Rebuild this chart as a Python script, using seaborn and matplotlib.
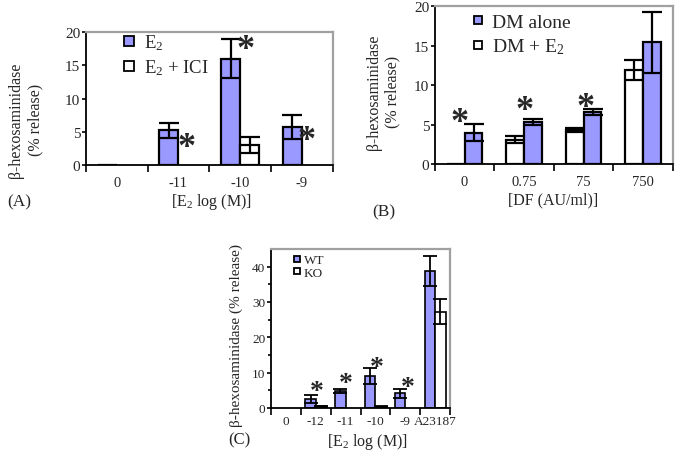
import numpy as np
import pandas as pd
import seaborn as sns
import matplotlib.pyplot as plt
from matplotlib.lines import Line2D

# Panel A: E2 dose response, +/- ICI
a_groups = ['0', '-11', '-10', '-9']
a_e2 = [0.0, 5.2, 16.0, 5.7]
a_e2_err = [0.0, 1.1, 2.9, 1.8]
a_ici = [np.nan, np.nan, 3.0, np.nan]
a_ici_err = [np.nan, np.nan, 1.15, np.nan]

# Panel B: DF dose, DM alone vs DM + E2
b_groups = ['0', '0.75', '75', '750']
b_alone = [4.0, 5.35, 6.6, 15.4]
b_alone_err = [1.05, 0.4, 0.4, 3.9]
b_e2 = [0.0, 3.1, 4.3, 11.9]
b_e2_err = [0.0, 0.4, 0.25, 1.3]

# Panel C: WT vs KO
c_groups = ['0', '-12', '-11', '-10', '-9', 'A23187']
c_wt = [np.nan, 2.5, 4.8, 9.0, 4.1, 38.8]
c_wt_err = [np.nan, 1.2, 0.6, 2.2, 1.3, 4.2]
c_ko = [np.nan, 0.5, np.nan, 0.4, np.nan, 27.3]
c_ko_err = [np.nan, 0.2, np.nan, 0.1, np.nan, 3.4]

BLUE = '#9999ff'

sns.set_theme(style='white')
plt.rcParams['font.family'] = ['Liberation Serif', 'DejaVu Serif']
plt.rcParams['mathtext.default'] = 'regular'


def long_frame(groups, series):
    rows = []
    for name, (vals, errs) in series.items():
        for g, v, e in zip(groups, vals, errs):
            rows.append({'group': g, 'series': name, 'value': v, 'err': e})
    return pd.DataFrame(rows)


def draw_panel(ax, df, groups, hue_order, palette, width, lw, capsize, elw):
    sns.barplot(data=df.dropna(subset=['value']), x='group', y='value',
                hue='series', order=groups, hue_order=hue_order,
                palette=palette, width=width, errorbar=None, legend=False,
                edgecolor='black', linewidth=lw, saturation=1, ax=ax)
    for level, cont in zip(hue_order, ax.containers):
        sub = df[df['series'] == level].set_index('group')
        for bar in cont:
            cx = bar.get_x() + bar.get_width() / 2
            g = groups[int(round(cx))]
            e = sub.loc[g, 'err']
            if np.isnan(e) or e == 0:
                continue
            ax.errorbar(cx, bar.get_height(), yerr=e, fmt='none',
                        ecolor='black', elinewidth=elw, capsize=capsize,
                        capthick=elw, zorder=5)
    n = len(groups)
    ax.set_xlim(-0.5, n - 0.5)
    ax.set_xticks(np.arange(-0.5, n, 1), minor=True)
    ax.tick_params(axis='x', which='major', length=0)
    ax.tick_params(axis='x', which='minor', length=5, width=1.2,
                   direction='out', color='black', bottom=True)
    ax.tick_params(axis='y', which='both', direction='out', left=True,
                   length=3, width=1.2, color='black', pad=1)
    for side in ['left', 'bottom']:
        ax.spines[side].set_color('black')
        ax.spines[side].set_linewidth(1.3)
    for side in ['top', 'right']:
        ax.spines[side].set_color('#a0a0a0')
        ax.spines[side].set_linewidth(1.6)
    ax.set_xlabel('')
    ax.set_ylabel('')


def add_legend(ax, labels, colors, fontsize, msize, anchor, hl, tp, ls):
    handles = [Line2D([], [], marker='s', linestyle='', markerfacecolor=c,
                      markeredgecolor='black', markeredgewidth=1.3,
                      markersize=msize) for c in colors]
    ax.legend(handles, labels, loc='center left', bbox_to_anchor=anchor,
              frameon=False, fontsize=fontsize, borderpad=0,
              handlelength=hl, handletextpad=tp, labelspacing=ls)


def stars(ax, spots, size):
    # glyph centre sits about half an em above the baseline
    for x, y in spots:
        ax.annotate('*', xy=(x, y), xytext=(0, -0.47 * size),
                    textcoords='offset points', fontsize=size,
                    fontweight='bold', ha='center', va='baseline', zorder=6)


fig = plt.figure(figsize=(6.87, 4.60), dpi=100)

# ---- Panel A
axA = fig.add_axes([0.125, 0.639, 0.3595, 0.289])
dfA = long_frame(a_groups, {'E2': (a_e2, a_e2_err), 'ICI': (a_ici, a_ici_err)})
draw_panel(axA, dfA, a_groups, ['E2', 'ICI'], {'E2': BLUE, 'ICI': 'white'},
           0.62, 1.6, 7, 1.6)
axA.set_ylim(0, 20)
axA.set_yticks([0, 5, 10, 15, 20])
axA.tick_params(axis='x', labelsize=10.5, pad=8)
axA.tick_params(axis='y', labelsize=11)
axA.set_ylabel('β-hexosaminidase\n(% release)', fontsize=11.5, linespacing=1.25)
axA.yaxis.set_label_coords(-0.174, 0.346)
axA.set_xlabel('[E$_2$ log (M)]', fontsize=11.5)
axA.xaxis.set_label_coords(0.51, -0.195)
add_legend(axA, ['E$_2$', 'E$_2$ + ICI'], [BLUE, 'white'], 13.5, 6.5,
           (0.108, 0.831), 0.8, 0.4, 0.3)
stars(axA, [(1.135, 3.9), (2.09, 18.7), (3.08, 4.9)], 26)

# ---- Panel B
axB = fig.add_axes([0.633, 0.641, 0.3464, 0.3435])
dfB = long_frame(b_groups, {'DM + E2': (b_e2, b_e2_err),
                            'DM alone': (b_alone, b_alone_err)})
draw_panel(axB, dfB, b_groups, ['DM + E2', 'DM alone'],
           {'DM alone': BLUE, 'DM + E2': 'white'}, 0.6, 1.6, 7, 1.6)
axB.set_ylim(0, 20)
axB.set_yticks([0, 5, 10, 15, 20])
axB.tick_params(axis='x', labelsize=10.5, pad=8)
axB.tick_params(axis='y', labelsize=11)
axB.set_ylabel('β-hexosaminidase\n(% release)', fontsize=11.5, linespacing=1.25)
axB.yaxis.set_label_coords(-0.143, 0.462)
axB.set_xlabel('[DF (AU/ml)]', fontsize=11.5)
axB.xaxis.set_label_coords(0.496, -0.171)
add_legend(axB, ['DM alone', 'DM + E$_2$'], [BLUE, 'white'], 14, 6.3,
           (0.109, 0.82), 0.8, 0.3, 0.3)
stars(axB, [(-0.08, 6.3), (1.0, 7.8), (2.04, 8.3)], 26)

# ---- Panel C
axC = fig.add_axes([0.3945, 0.1109, 0.2606, 0.3457])
dfC = long_frame(c_groups, {'WT': (c_wt, c_wt_err), 'KO': (c_ko, c_ko_err)})
draw_panel(axC, dfC, c_groups, ['WT', 'KO'], {'WT': BLUE, 'KO': 'white'},
           0.7, 1.2, 5, 1.3)
axC.set_ylim(0, 45)
axC.set_yticks([0, 10, 20, 30, 40])
axC.set_yticks([5, 15, 25, 35], minor=True)
axC.tick_params(axis='y', which='minor', length=2)
axC.tick_params(axis='both', labelsize=9.5)
axC.tick_params(axis='x', pad=5)
axC.set_ylabel('β-hexosaminidase (% release)', fontsize=11)
axC.yaxis.set_label_coords(-0.156, 0.465)
axC.set_xlabel('[E$_2$ log (M)]', fontsize=11.5)
axC.xaxis.set_label_coords(0.536, -0.145)
add_legend(axC, ['WT', 'KO'], [BLUE, 'white'], 9.5, 3.8,
           (0.092, 0.89), 0.5, 0.25, 0.0)
stars(axC, [(1.05, 6.6), (2.0, 8.8), (3.03, 13.2), (4.1, 7.6)], 20)

# panel letters
fig.text(7 / 687, 1 - 202 / 460, '(A)', fontsize=12.5, va='center')
fig.text(372 / 687, 1 - 212 / 460, '(B)', fontsize=12.5, va='center')
fig.text(228 / 687, 1 - 440 / 460, '(C)', fontsize=12, va='center')

fig.savefig('out.png', dpi=100)
